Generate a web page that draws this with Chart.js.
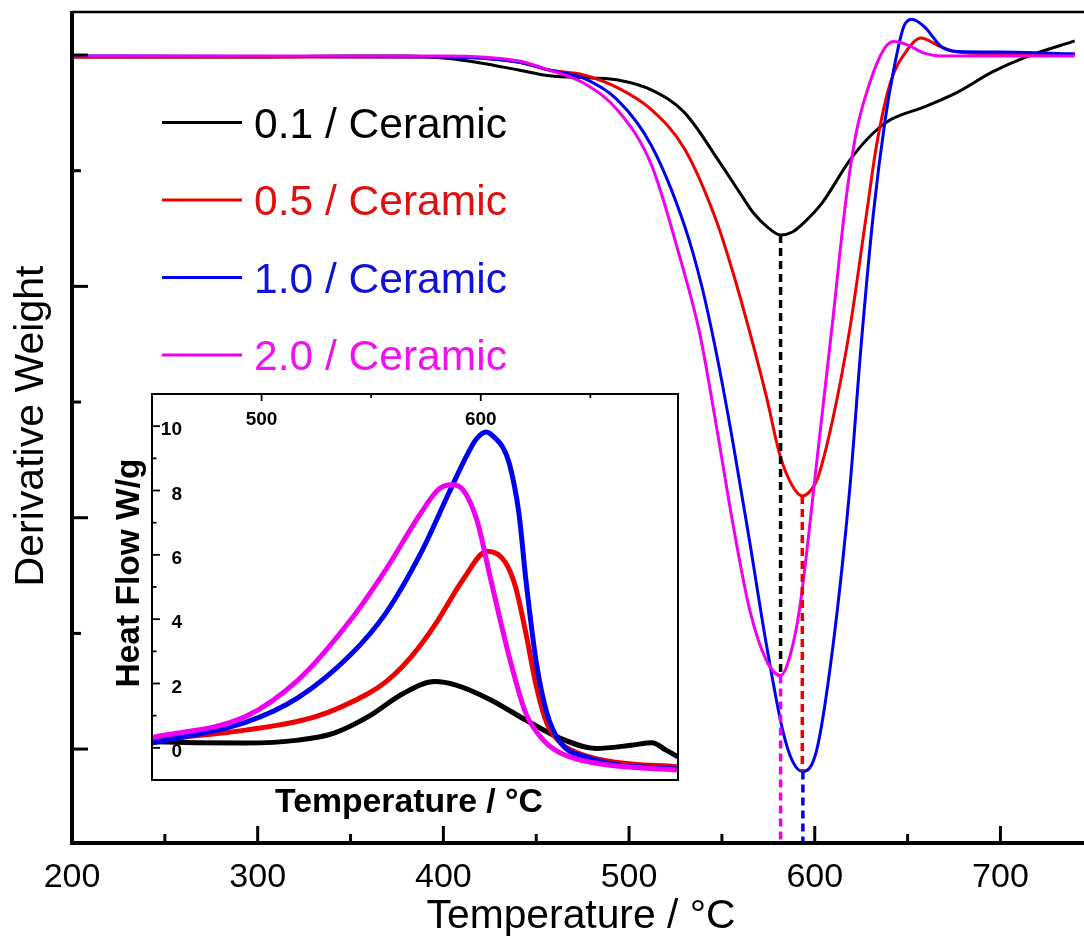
<!DOCTYPE html>
<html><head><meta charset="utf-8">
<script src="https://cdn.jsdelivr.net/npm/chart.js@4.4.1/dist/chart.umd.min.js"></script>
<style>
html,body{margin:0;padding:0;background:#fff;}
#wrap{position:relative;width:1084px;height:949px;overflow:hidden;background:#fff;}
#main{position:absolute;left:0;top:0;}
#inset{position:absolute;left:100px;top:380px;}
</style></head><body>
<div id="wrap"><canvas id="main" width="1084" height="949"></canvas><canvas id="inset" width="600" height="450"></canvas></div>
<script>
// ---------- DATA (main plot: derivative weight, arbitrary units) ----------
const seriesLabels = ['0.1 / Ceramic', '0.5 / Ceramic', '1.0 / Ceramic', '2.0 / Ceramic'];

const mainBlackT = [200,300,350,380,400,420,440,457,480,494,512,530,549,560,567,575,581.6,588,594.5,604,619,631.5,640.7,659,677,695.7,714,740];
const mainBlackV = [2.992,2.992,2.996,2.996,2.987,2.966,2.936,2.910,2.901,2.892,2.849,2.750,2.534,2.40,2.317,2.253,2.222,2.235,2.278,2.361,2.547,2.663,2.720,2.776,2.840,2.927,2.992,3.061];

const mainRedT = [200,400,440,457,475.5,494,512,530,547,556,565,574,581.4,588,593.3,598,601.6,609.6,618.8,627.8,633.3,640.7,649.8,657,668,677,700,740];
const mainRedV = [2.992,2.992,2.970,2.935,2.914,2.858,2.764,2.593,2.284,2.059,1.802,1.522,1.266,1.137,1.094,1.120,1.172,1.422,1.812,2.309,2.611,2.879,3.022,3.074,3.035,3.013,3.005,3.000];

const mainBlueT = [200,400,440,457,475.5,494,512,530,539,547,555.8,565,574,582.7,588,593.6,600.9,609.6,618.8,625,631.5,637.9,642.5,647.9,652.2,659,668.2,677.3,700,740];
const mainBlueV = [2.996,2.992,2.970,2.935,2.900,2.804,2.609,2.259,2.006,1.712,1.332,0.894,0.450,0.082,-0.052,-0.097,-0.009,0.432,1.120,1.747,2.309,2.719,2.936,3.122,3.155,3.123,3.036,3.015,3.013,3.005];

const mainMagT = [200,400,440,457,475.5,494,512,527,538,547,555.8,565,574,581.6,586.5,591.9,600.9,609.6,616.8,622.3,629.6,637,642.5,649.8,659,668,740];
const mainMagV = [2.996,2.996,2.975,2.935,2.879,2.760,2.526,2.136,1.799,1.398,0.979,0.601,0.383,0.318,0.398,0.610,1.228,1.846,2.374,2.663,2.879,3.022,3.058,3.044,3.008,2.996,2.996];

const xTickLabels = [200,300,400,500,600,700];
const xMinorTicks = [250,350,450,550,650];
const yMajorTicks = [0,1,2,3];
const yMinorTicks = [0.5,1.5,2.5];

// ---------- DATA (inset: heat flow W/g) ----------
const insetBlackT = [450,470,492.6,516.7,532.7,548.7,564.6,579,588.7,604.6,620.6,636.6,652.6,668.6,678.2,684.5,690];
const insetBlackV = [0.19,0.16,0.15,0.24,0.45,0.97,1.69,2.06,1.95,1.49,0.86,0.29,-0.02,0.08,0.16,-0.07,-0.28];

const insetRedT = [450,492.6,524.7,548.7,556.7,564.6,572.6,580.6,591.8,603,611,615.8,620.6,625.4,630.2,636.6,644.6,660.6,690];
const insetRedV = [0.24,0.55,0.97,1.69,2.05,2.55,3.2,3.98,5.22,6.11,5.79,5.02,3.56,1.90,0.76,0.14,-0.17,-0.44,-0.59];

const insetBlueT = [450,492.6,516.7,540.7,556.7,572.7,585.5,593.5,598,602.5,607,610,613,617.4,620.6,625.4,630.2,636.6,647.8,660,690];
const insetBlueV = [0.15,0.79,1.56,2.9,4.19,6.06,7.93,9.07,9.6,9.82,9.6,9.35,8.85,7.3,5.22,2.63,1.07,0.14,-0.28,-0.5,-0.66];

const insetMagT = [450,492.6,516.7,540.7,556.7,572.7,580.6,587,591.8,598.2,604.6,612.6,620.6,628.6,636.6,652.6,690];
const insetMagV = [0.32,0.97,2.11,3.98,5.54,7.3,8.03,8.18,8.03,7.09,5.22,2.94,1.07,0.24,-0.17,-0.48,-0.69];

const insetYTicks = [0,2,4,6,8,10];
const insetYMinor = [1,3,5,7,9];
const insetXTicks = [500,600];
const insetXMinor = [550,650];

// ---------- STYLE ----------
const FONT = '"Liberation Sans", Arial, sans-serif';
const COLORS = ['#000000', '#ee0000', '#0000f0', '#f000f0'];
const TEXTCOLORS = ['#000000', '#e01010', '#1010d8', '#f010f0'];
const X_MIN = 200, X_MAX = 745, Y_MIN = -0.406, Y_MAX = 3.186;

const zip = (T, V) => T.map((t, i) => ({x: t, y: V[i]}));
function minPoint(T, V) { const m = Math.min(...V); const i = V.indexOf(m); return {x: T[i], y: V[i]}; }

const mainSeries = [zip(mainBlackT, mainBlackV), zip(mainRedT, mainRedV), zip(mainBlueT, mainBlueV), zip(mainMagT, mainMagV)];
const bMin = minPoint(mainBlackT, mainBlackV), rMin = minPoint(mainRedT, mainRedV),
      uMin = minPoint(mainBlueT, mainBlueV), mMin = minPoint(mainMagT, mainMagV);
const dropLines = [
  [{x: bMin.x, y: bMin.y}, {x: bMin.x, y: mMin.y}],
  [{x: rMin.x, y: rMin.y}, {x: rMin.x, y: uMin.y}],
  [{x: uMin.x, y: uMin.y}, {x: uMin.x, y: Y_MIN}],
  [{x: mMin.x, y: mMin.y}, {x: mMin.x, y: Y_MIN}]
];
const dropColors = [COLORS[0], COLORS[1], COLORS[2], COLORS[3]];

function line(ctx, x1, y1, x2, y2) { ctx.beginPath(); ctx.moveTo(x1, y1); ctx.lineTo(x2, y2); ctx.stroke(); }
function fitSize(ctx, text, weight, targetW) { ctx.font = weight + ' 100px ' + FONT; return 100 * targetW / ctx.measureText(text).width; }

const mainDatasets = [];
dropLines.forEach((d, i) => mainDatasets.push({data: d, borderColor: dropColors[i], borderWidth: 3.5, borderDash: [8, 5], pointRadius: 0, fill: false, tension: 0, order: 0}));
mainSeries.forEach((d, i) => mainDatasets.push({label: seriesLabels[i], data: d, borderColor: COLORS[i], borderWidth: 3, pointRadius: 0, fill: false, cubicInterpolationMode: 'monotone', order: 4 - i}));

const mainDecor = {
  id: 'mainDecor',
  afterDraw(chart) {
    const {ctx, chartArea: a, scales: {x, y}} = chart;
    ctx.save();
    ctx.strokeStyle = '#000'; ctx.lineCap = 'butt';
    ctx.lineWidth = 2.5; line(ctx, a.left, a.top, a.right, a.top);
    ctx.lineWidth = 4; line(ctx, a.left, a.top - 1, a.left, a.bottom + 2);
    line(ctx, a.left - 2, a.bottom, a.right, a.bottom);
    ctx.lineWidth = 3;
    xTickLabels.forEach(v => { const p = x.getPixelForValue(v); line(ctx, p, a.bottom, p, a.bottom - 17); });
    xMinorTicks.forEach(v => { const p = x.getPixelForValue(v); line(ctx, p, a.bottom, p, a.bottom - 9); });
    yMajorTicks.forEach(v => { const p = y.getPixelForValue(v); line(ctx, a.left, p, a.left + 16, p); });
    yMinorTicks.forEach(v => { const p = y.getPixelForValue(v); line(ctx, a.left, p, a.left + 9, p); });
    // legend
    const ls = fitSize(ctx, seriesLabels[0], 'normal', 253);
    seriesLabels.forEach((t, i) => {
      const cy = 122.5 + i * 77.5;
      ctx.strokeStyle = COLORS[i]; ctx.lineWidth = 3;
      line(ctx, 162, cy, 242, cy);
      ctx.fillStyle = TEXTCOLORS[i];
      ctx.font = 'normal ' + ls + 'px ' + FONT;
      ctx.textAlign = 'left'; ctx.textBaseline = 'alphabetic';
      ctx.fillText(t, 254, cy + ls * 0.358);
    });
    // axis titles
    ctx.fillStyle = '#000';
    const xt = 'Temperature / °C';
    const xs = fitSize(ctx, xt, 'normal', 309);
    ctx.font = 'normal ' + xs + 'px ' + FONT; ctx.textAlign = 'center'; ctx.textBaseline = 'alphabetic';
    ctx.fillText(xt, 581, 928);
    const yt = 'Derivative Weight';
    const ys = fitSize(ctx, yt, 'normal', 321);
    ctx.translate(43, 426); ctx.rotate(-Math.PI / 2);
    ctx.font = 'normal ' + ys + 'px ' + FONT; ctx.textAlign = 'center';
    ctx.fillText(yt, 0, 0);
    ctx.restore();
  }
};

new Chart(document.getElementById('main'), {
  type: 'line',
  data: {datasets: mainDatasets},
  options: {
    responsive: false, animation: false, devicePixelRatio: 1,
    layout: {padding: {left: 72, top: 12, right: 0, bottom: 0}},
    plugins: {legend: {display: false}, tooltip: {enabled: false}},
    scales: {
      x: {type: 'linear', min: X_MIN, max: X_MAX,
          afterBuildTicks: s => { s.ticks = xTickLabels.map(v => ({value: v})); },
          ticks: {font: {family: FONT, size: 34}, color: '#000', padding: 14, maxRotation: 0, autoSkip: false, callback: v => String(v)},
          grid: {display: false, drawTicks: false}, border: {display: false},
          afterFit: s => { s.height = 106; }},
      y: {type: 'linear', display: false, min: Y_MIN, max: Y_MAX}
    }
  },
  plugins: [mainDecor]
});

// ---------- INSET ----------
const insetSeries = [zip(insetBlackT, insetBlackV), zip(insetRedT, insetRedV), zip(insetBlueT, insetBlueV), zip(insetMagT, insetMagV)];
const insetDecor = {
  id: 'insetDecor',
  beforeDatasetsDraw(chart) {
    const {ctx, chartArea: a} = chart;
    ctx.save(); ctx.fillStyle = '#fff'; ctx.fillRect(a.left, a.top, a.right - a.left, a.bottom - a.top); ctx.restore();
  },
  afterDraw(chart) {
    const {ctx, chartArea: a, scales: {x, y}} = chart;
    ctx.save();
    ctx.strokeStyle = '#000'; ctx.lineWidth = 2;
    ctx.strokeRect(a.left, a.top, a.right - a.left, a.bottom - a.top);
    ctx.lineWidth = 1.8;
    insetYTicks.forEach(v => { const p = y.getPixelForValue(v); line(ctx, a.left, p, a.left + 8, p); });
    insetYMinor.forEach(v => { const p = y.getPixelForValue(v); line(ctx, a.left, p, a.left + 4.5, p); });
    insetXTicks.forEach(v => { const p = x.getPixelForValue(v); line(ctx, p, a.top, p, a.top + 7); });
    insetXMinor.forEach(v => { const p = x.getPixelForValue(v); line(ctx, p, a.top, p, a.top + 4); });
    ctx.fillStyle = '#000';
    ctx.font = 'bold 19px ' + FONT; ctx.textBaseline = 'middle';
    ctx.textAlign = 'right';
    insetYTicks.forEach(v => { const p = y.getPixelForValue(v); ctx.fillText(String(v), 82, p + 4); });
    ctx.textAlign = 'center';
    insetXTicks.forEach(v => { const p = x.getPixelForValue(v); ctx.fillText(String(v), p, a.top + 26); });
    // titles
    ctx.textBaseline = 'alphabetic';
    const xt = 'Temperature / °C';
    const xs = fitSize(ctx, xt, 'bold', 268);
    ctx.font = 'bold ' + xs + 'px ' + FONT; ctx.textAlign = 'center';
    ctx.fillText(xt, 309, 432);
    const yt = 'Heat Flow W/g';
    const ys = fitSize(ctx, yt, 'bold', 229);
    ctx.translate(38.5, 193); ctx.rotate(-Math.PI / 2);
    ctx.font = 'bold ' + ys + 'px ' + FONT;
    ctx.fillText(yt, 0, 0);
    ctx.restore();
  }
};

new Chart(document.getElementById('inset'), {
  type: 'line',
  data: {datasets: insetSeries.map((d, i) => ({label: seriesLabels[i], data: d, borderColor: COLORS[i], borderWidth: 5, pointRadius: 0, fill: false, cubicInterpolationMode: 'monotone', order: 4 - i}))},
  options: {
    responsive: false, animation: false, devicePixelRatio: 1,
    layout: {padding: {left: 52, top: 14, right: 22, bottom: 50}},
    plugins: {legend: {display: false}, tooltip: {enabled: false}},
    scales: {
      x: {type: 'linear', display: false, min: 450, max: 690},
      y: {type: 'linear', display: false, min: -1.0, max: 11.0}
    }
  },
  plugins: [insetDecor]
});
</script>
</body></html>
